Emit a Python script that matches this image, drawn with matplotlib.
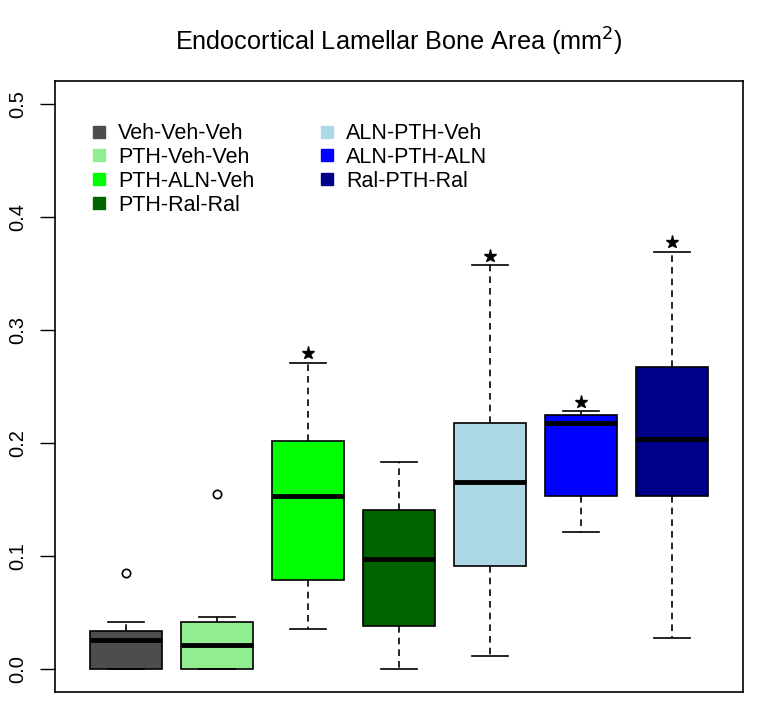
import matplotlib
matplotlib.use("Agg")
import matplotlib.pyplot as plt
from matplotlib.lines import Line2D

plt.rcParams['font.family'] = ['Liberation Sans', 'DejaVu Sans']

groups = ["Veh-Veh-Veh", "PTH-Veh-Veh", "PTH-ALN-Veh", "PTH-Ral-Ral",
          "ALN-PTH-Veh", "ALN-PTH-ALN", "Ral-PTH-Ral"]
colors = ["#4d4d4d", "#90ee90", "#00ff00", "#006400",
          "#add8e6", "#0000ff", "#00008b"]
whislo = [0.0, 0.0, 0.036, 0.0, 0.012, 0.121, 0.028]
q1 = [0.0, 0.0, 0.079, 0.038, 0.091, 0.153, 0.153]
med = [0.026, 0.022, 0.153, 0.098, 0.166, 0.218, 0.204]
q3 = [0.034, 0.042, 0.202, 0.141, 0.218, 0.225, 0.267]
whishi = [0.042, 0.046, 0.271, 0.183, 0.357, 0.228, 0.369]
fliers = [[0.085], [0.155], [], [], [], [], []]
starred = [False, False, True, False, True, True, True]
yticks = [0.0, 0.1, 0.2, 0.3, 0.4, 0.5]

fig = plt.figure(figsize=(7.62, 7.03), dpi=100)
ax = fig.add_axes([0.0722, 0.0156, 0.9028, 0.8692])

stats = []
for i in range(len(groups)):
    stats.append(dict(med=med[i], q1=q1[i], q3=q3[i], whislo=whislo[i],
                      whishi=whishi[i], fliers=fliers[i], label=groups[i]))

positions = list(range(1, len(groups) + 1))
bp = ax.bxp(stats, positions=positions, widths=0.8, patch_artist=True,
            showfliers=True,
            boxprops=dict(edgecolor='black', linewidth=1.2),
            medianprops=dict(color='black', linewidth=3.5, solid_capstyle='butt'),
            whiskerprops=dict(color='black', linestyle=(0, (4, 3)), linewidth=1.2),
            capprops=dict(color='black', linewidth=1.2),
            flierprops=dict(marker='o', markerfacecolor='none', markeredgecolor='black',
                            markersize=6, markeredgewidth=1.2),
            capwidths=0.4)
for patch, c in zip(bp['boxes'], colors):
    patch.set_facecolor(c)

for i, s in enumerate(starred):
    if s:
        ax.plot([positions[i]], [whishi[i] + 0.0085], marker='*', color='black',
                markersize=9.5, linestyle='none')

ax.set_xlim(0.22, 7.78)
ax.set_ylim(-0.02, 0.52)
ax.set_yticks(yticks)
ax.set_yticklabels([f"{v:.1f}" for v in yticks], rotation=90, va='center', fontsize=14.5)
ax.tick_params(axis='y', length=10.8, width=1, pad=9)
ax.set_xticks([])
for sp in ax.spines.values():
    sp.set_linewidth(1.2)

handles = [Line2D([], [], linestyle='none', marker='s', markersize=8.6,
                  markerfacecolor=c, markeredgecolor=c) for c in colors]
ax.legend(handles, groups, loc='upper left', bbox_to_anchor=(0.0515, 0.931),
          ncol=2, frameon=False, fontsize=15.5, handlelength=0.8, handletextpad=0.48,
          labelspacing=0.13, columnspacing=3.0, borderaxespad=0, borderpad=0)

fig.text(0.524, 0.940, "Endocortical Lamellar Bone Area (mm$^2$)", ha='center',
         va='center', fontsize=18.2)

fig.savefig("out.png", dpi=100)
